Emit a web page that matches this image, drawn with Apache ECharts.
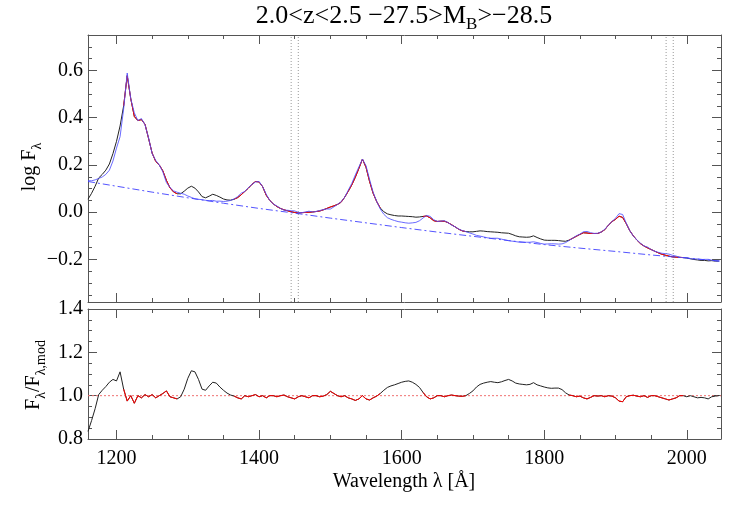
<!DOCTYPE html>
<html><head><meta charset="utf-8">
<script src="https://cdn.jsdelivr.net/npm/echarts@6/dist/echarts.min.js"></script>
<style>html,body{margin:0;padding:0;background:#fff}#c{width:736px;height:507px}</style>
</head><body><div id="c"></div>
<script>
// Wavelength grid of the composite spectrum (Angstrom)
const lambdaStart = 1160, lambdaStep = 5;
// log F_lambda of the composite, one value per grid point (1160 ... 2045)
const logFlux = [
 0.055,0.080,0.110,0.145,0.160,0.178,0.204,0.248,0.300,0.365,
 0.450,0.578,0.480,0.405,0.388,0.392,0.372,0.312,0.250,0.215,
 0.200,0.175,0.135,0.103,0.086,0.078,0.078,0.089,0.102,0.110,
 0.102,0.086,0.066,0.061,0.068,0.076,0.071,0.064,0.056,0.052,
 0.051,0.055,0.062,0.074,0.088,0.102,0.118,0.130,0.128,0.108,
 0.072,0.050,0.035,0.024,0.016,0.010,0.006,0.002,-0.001,-0.003,
 -0.002,-0.001,0.000,0.001,0.003,0.005,0.010,0.016,0.022,0.027,
 0.033,0.042,0.063,0.088,0.115,0.148,0.185,0.225,0.190,0.130,
 0.080,0.045,0.018,0.002,-0.007,-0.011,-0.014,-0.016,-0.016,-0.017,
 -0.018,-0.019,-0.021,-0.020,-0.018,-0.016,-0.024,-0.036,-0.039,-0.038,
 -0.038,-0.044,-0.053,-0.062,-0.072,-0.079,-0.082,-0.083,-0.083,-0.081,
 -0.079,-0.080,-0.082,-0.083,-0.084,-0.085,-0.087,-0.088,-0.089,-0.094,
 -0.100,-0.104,-0.105,-0.106,-0.105,-0.100,-0.107,-0.113,-0.118,-0.119,
 -0.119,-0.119,-0.120,-0.122,-0.123,-0.118,-0.110,-0.102,-0.094,-0.087,
 -0.088,-0.090,-0.090,-0.090,-0.084,-0.074,-0.055,-0.040,-0.030,-0.017,
 -0.022,-0.048,-0.078,-0.100,-0.118,-0.133,-0.143,-0.151,-0.158,-0.165,
 -0.172,-0.178,-0.182,-0.186,-0.189,-0.190,-0.191,-0.192,-0.194,-0.197,
 -0.200,-0.202,-0.204,-0.204,-0.206,-0.205,-0.207,-0.207
];
// F_lambda / F_lambda,mod on the same grid
const fluxRatio = [
 0.835,0.885,0.940,1.005,1.025,1.042,1.062,1.075,1.068,1.110,
 1.030,0.975,1.000,0.965,1.000,0.990,1.005,0.995,1.005,0.990,
 1.000,1.010,1.022,0.995,0.990,0.985,0.995,1.030,1.080,1.115,
 1.110,1.075,1.030,1.025,1.045,1.062,1.058,1.040,1.025,1.012,
 1.003,0.998,0.990,0.985,1.000,0.995,1.000,1.005,0.995,1.000,
 0.990,1.000,1.000,0.995,1.000,1.003,0.995,0.990,0.985,0.995,
 1.000,0.995,0.990,1.000,1.000,0.995,0.998,1.005,1.020,1.010,
 1.000,0.995,1.000,0.990,0.985,0.978,0.985,1.000,0.985,0.980,
 0.990,0.998,1.010,1.025,1.038,1.045,1.050,1.056,1.062,1.066,
 1.068,1.062,1.052,1.038,1.015,0.995,0.985,0.990,1.000,1.000,
 0.995,1.000,1.003,1.000,0.998,0.997,1.000,1.010,1.022,1.040,
 1.052,1.058,1.062,1.065,1.062,1.060,1.064,1.070,1.075,1.068,
 1.058,1.054,1.052,1.050,1.052,1.060,1.050,1.045,1.040,1.036,
 1.034,1.035,1.035,1.028,1.013,1.003,1.000,0.995,0.998,0.990,
 0.985,0.992,1.000,0.998,1.000,0.995,1.000,0.998,0.990,0.975,
 0.972,0.995,1.000,1.002,0.998,0.995,1.000,0.992,1.000,1.000,
 0.995,0.990,0.985,0.980,0.985,0.990,1.000,1.000,0.995,1.000,
 0.995,0.990,0.992,0.990,0.985,0.995,0.998,1.000
];
// Power-law continuum (dash-dot line)
const contLambda  = [1160,1200,1250,1300,1350,1400,1450,1500,1550,1600,1650,1700,1750,1800,1850,1900,1950,2000,2048];
const contLogFlux = [0.130,0.110,0.085,0.061,0.038,0.016,-0.004,-0.025,-0.045,-0.065,-0.084,-0.102,-0.120,-0.137,-0.152,-0.166,-0.181,-0.194,-0.207];
// Fitted wavelength windows (shown in red) and continuum windows (dotted lines)
const fitWindows = [[1210,1285],[1365,1570],[1630,1690],[1835,1995]];
const contWindowLines = [1445,1455,1971,1981];
const ratioReference = 1.0;
// Tick labels / tick positions
const xMajorTicks = [1200,1400,1600,1800,2000];
const xMinorTicks = [1200,1250,1300,1350,1400,1450,1500,1550,1600,1650,1700,1750,1800,1850,1900,1950,2000];
const yTopMajorTicks = [-0.2,0.0,0.2,0.4,0.6];
const yTopMinorTicks = [-0.35,-0.3,-0.25,-0.2,-0.15,-0.1,-0.05,0,0.05,0.1,0.15,0.2,0.25,0.3,0.35,0.4,0.45,0.5,0.55,0.6,0.65,0.7];
const yBotMajorTicks = [0.8,1.0,1.2,1.4];
const yBotMinorTicks = [0.85,0.9,0.95,1.0,1.05,1.1,1.15,1.2,1.25,1.3,1.35];

const FONT = 'Liberation Serif';
const FRAME = '#555';
const X_MIN = 1160, X_MAX = 2048;
const YT_MIN = -0.38, YT_MAX = 0.75, YB_MIN = 0.8, YB_MAX = 1.4;

const lam = logFlux.map((_, i) => lambdaStart + i * lambdaStep);
const inFit = l => fitWindows.some(w => l >= w[0] && l <= w[1]);
const dataSeries = lam.map((l, i) => [l, logFlux[i]]);
const dataFit = lam.map((l, i) => [l, inFit(l) ? logFlux[i] : null]);
const modelSeries = lam.map((l, i) => [l, logFlux[i] - Math.log10(fluxRatio[i])]);
const ratioSeries = lam.map((l, i) => [l, fluxRatio[i]]);
const ratioFit = lam.map((l, i) => [l, inFit(l) ? fluxRatio[i] : null]);
const contSeries = contLambda.map((l, i) => [l, contLogFlux[i]]);

const RICH = {t:{fontFamily:FONT, fontSize:20, color:'#000'}};
const fmtY = v => '{t|' + (v < 0 ? '\u2212' : '') + Math.abs(v).toFixed(1) + '}';
const fmtX = v => '{t|' + String(Math.round(v)) + '}';

function xAx(grid, pos, ticks, len, label, line) {
  return {type:'value', gridIndex:grid, position:pos, min:X_MIN, max:X_MAX,
    axisLine:{show:line, onZero:false, lineStyle:{color:FRAME, width:1}},
    axisTick:{show:true, inside:true, length:len, customValues:ticks, lineStyle:{color:FRAME, width:1}},
    axisLabel:{show:label, customValues:ticks, margin:10, fontSize:20, fontFamily:FONT, color:'#000', formatter:fmtX, rich:RICH},
    splitLine:{show:false}};
}
function yAx(grid, pos, min, max, ticks, len, label, line) {
  return {type:'value', gridIndex:grid, position:pos, min:min, max:max,
    axisLine:{show:line, onZero:false, lineStyle:{color:FRAME, width:1}},
    axisTick:{show:true, inside:true, length:len, customValues:ticks, lineStyle:{color:FRAME, width:1}},
    axisLabel:{show:label, customValues:ticks, margin:5, fontSize:20, fontFamily:FONT, color:'#000', formatter:fmtY, rich:RICH},
    splitLine:{show:false}};
}

const series = [
  {type:'line', xAxisIndex:0, yAxisIndex:0, data:dataSeries, showSymbol:false, z:2,
   lineStyle:{color:'#222', width:1}},
  {type:'line', xAxisIndex:0, yAxisIndex:0, data:dataFit, showSymbol:false, z:3, connectNulls:false,
   lineStyle:{color:'#ff0000', width:1}},
  {type:'line', xAxisIndex:0, yAxisIndex:0, data:modelSeries, showSymbol:false, z:4,
   lineStyle:{color:'#5050ff', width:1, opacity:0.85}},
  {type:'line', xAxisIndex:0, yAxisIndex:0, data:contSeries, showSymbol:false, z:4,
   lineStyle:{color:'#4040ff', width:1, type:[7,3,2,3], opacity:0.9}},
  {type:'line', xAxisIndex:4, yAxisIndex:4, data:[[X_MIN, ratioReference],[X_MAX, ratioReference]], showSymbol:false, z:1,
   lineStyle:{color:'#f07070', width:1, type:[2,2]}},
  {type:'line', xAxisIndex:4, yAxisIndex:4, data:ratioSeries, showSymbol:false, z:2,
   lineStyle:{color:'#222', width:1}},
  {type:'line', xAxisIndex:4, yAxisIndex:4, data:ratioFit, showSymbol:false, z:3, connectNulls:false,
   lineStyle:{color:'#ff0000', width:1}}
];
contWindowLines.forEach(v => series.push(
  {type:'line', xAxisIndex:0, yAxisIndex:0, data:[[v, YT_MIN],[v, YT_MAX]], showSymbol:false, z:1,
   lineStyle:{color:'#999', width:1, type:[1,2]}}));

const chart = echarts.init(document.getElementById('c'), null, {renderer:'canvas'});
chart.setOption({
  animation:false,
  backgroundColor:'#fff',
  textStyle:{fontFamily:FONT},
  grid:[
    {left:88, top:35, width:633, height:267},
    {left:88, top:309, width:633, height:130}
  ],
  xAxis:[
    xAx(0,'bottom',xMajorTicks,9,false,true),
    xAx(0,'bottom',xMinorTicks,4,false,false),
    xAx(0,'top',xMajorTicks,9,false,true),
    xAx(0,'top',xMinorTicks,4,false,false),
    xAx(1,'bottom',xMajorTicks,9,true,true),
    xAx(1,'bottom',xMinorTicks,4,false,false),
    xAx(1,'top',xMajorTicks,9,false,true),
    xAx(1,'top',xMinorTicks,4,false,false)
  ],
  yAxis:[
    yAx(0,'left',YT_MIN,YT_MAX,yTopMajorTicks,9,true,true),
    yAx(0,'left',YT_MIN,YT_MAX,yTopMinorTicks,4,false,false),
    yAx(0,'right',YT_MIN,YT_MAX,yTopMajorTicks,9,false,true),
    yAx(0,'right',YT_MIN,YT_MAX,yTopMinorTicks,4,false,false),
    yAx(1,'left',YB_MIN,YB_MAX,yBotMajorTicks,9,true,true),
    yAx(1,'left',YB_MIN,YB_MAX,yBotMinorTicks,4,false,false),
    yAx(1,'right',YB_MIN,YB_MAX,yBotMajorTicks,9,false,true),
    yAx(1,'right',YB_MIN,YB_MAX,yBotMinorTicks,4,false,false)
  ],
  series:series,
  graphic:[
    {type:'text', x:404, y:16, z:10,
     style:{text:'{a|2.0<z<2.5 \u221227.5>M}{b|B}{a|>\u221228.5}', align:'center', verticalAlign:'middle',
       rich:{a:{fontSize:26, fontFamily:FONT, fill:'#000', lineHeight:34},
             b:{fontSize:17, fontFamily:FONT, fill:'#000', lineHeight:17, verticalAlign:'bottom'}}}},
    {type:'text', x:404, y:482, z:10,
     style:{text:'Wavelength \u03bb [\u00c5]', align:'center', verticalAlign:'middle',
       font:'20px "Liberation Serif"', fill:'#000'}},
    {type:'text', x:30, y:167, rotation:Math.PI/2, z:10,
     style:{text:'{a|log F}{b|\u03bb}', align:'center', verticalAlign:'middle',
       rich:{a:{fontSize:20, fontFamily:FONT, fill:'#000', lineHeight:28},
             b:{fontSize:14, fontFamily:FONT, fill:'#000', lineHeight:14, verticalAlign:'bottom'}}}},
    {type:'text', x:34, y:375, rotation:Math.PI/2, z:10,
     style:{text:'{a|F}{b|\u03bb}{a|/F}{b|\u03bb,mod}', align:'center', verticalAlign:'middle',
       rich:{a:{fontSize:20, fontFamily:FONT, fill:'#000', lineHeight:28},
             b:{fontSize:14, fontFamily:FONT, fill:'#000', lineHeight:14, verticalAlign:'bottom'}}}}
  ]
});
</script></body></html>
